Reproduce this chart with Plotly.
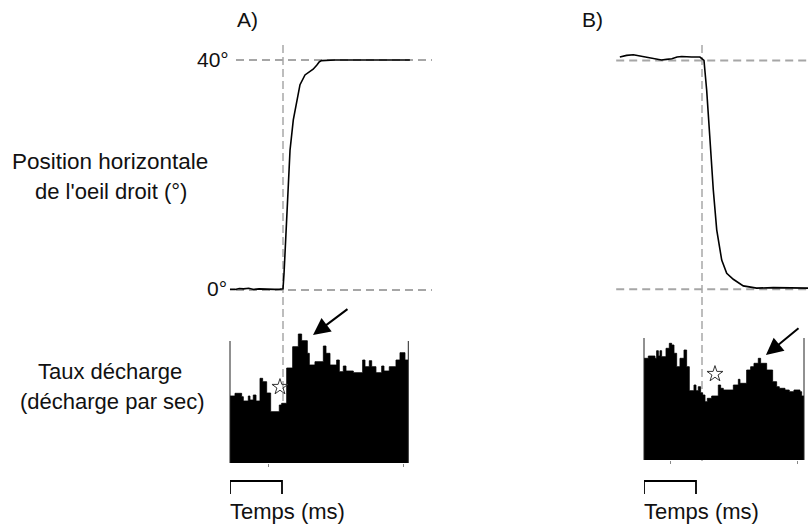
import plotly.graph_objects as go

# ---------------- data ----------------
# Eye position traces (time in ms relative to saccade onset, position in degrees)
eyeA_t = [-102, -92, -84, -76, -66, -56, -46, -36, -26, -16, -6, 0, 2, 3.8, 7.1, 10.2, 13.5,
          19.8, 26.3, 32.7, 42.3, 51.9, 58, 64.8, 70, 74.4, 100, 150, 200, 244]
eyeA_pos = [0.1, 0.1, 0.25, 0.2, 0.3, 0.1, 0.2, 0.15, 0.15, 0.1, 0.15, 0.2, 2.9, 6.4, 13.4, 20.3, 24.3,
            29.6, 33.0, 35.7, 37.4, 38.1, 38.4, 39.1, 39.7, 39.9, 40.0, 40.0, 40.0, 40.0]

eyeB_t = [-158, -145, -132, -118, -106, -92, -78, -68, -58, -48, -39, -20, -4, 3.8, 9.0, 15.4,
          21.7, 28.3, 37.9, 47.5, 60.2, 79.4, 105, 137, 176, 204]
eyeB_pos = [40.6, 40.9, 41.0, 40.8, 40.6, 40.3, 40.1, 40.2, 40.3, 40.6, 40.7, 40.6, 40.6, 40.0,
            34.8, 26.1, 17.4, 10.4, 5.1, 2.8, 1.75, 0.6, 0.2, 0.3, 0.25, 0.2]

# Peri-saccadic firing-rate histograms (bin edges in ms, rate in spikes/s)
histA_edges = [-101.9, -92.3, -79.5, -76.3, -66.7, -63.5, -57.1, -51.9, -44.2, -39.1, -31.4,
               -23.7, -7.1, -2.6, 7.1, 18.6, 29.5, 35.9, 46.8, 50.6, 61.5, 77.6, 82.7, 90.4,
               103.2, 108.3, 116.0, 121.2, 135.3, 153.2, 157.7, 166.0, 170.6, 178.8, 189.8,
               194.2, 204.4, 217.3, 225.0, 234.6, 241.0]
histA_rate = [67, 69.7, 66.3, 62, 67, 63, 68, 62, 84.7, 81.3, 70, 51.3, 58, 59.7, 95, 116.3,
              129, 122.3, 109.7, 98, 101.3, 117, 109.7, 98, 103, 91.3, 97, 92, 90.3, 103,
              96.3, 102.3, 96.3, 90.3, 97, 92, 96.3, 103, 110.3, 103]

histB_edges = [-111.5, -103.2, -90.4, -87.2, -83.9, -80.8, -77.6, -69.2, -62.8, -58.3, -53.8,
               -48.7, -42.3, -34.6, -29.5, -24.4, -15.4, -11.5, -7.1, -2.6, 1.3, 5.8, 10.3,
               18.6, 31.4, 35.9, 41.0, 60.3, 69.9, 73.1, 85.9, 93.6, 100.0, 108.3, 112.8,
               124.4, 135.9, 143.6, 148.7, 159.6, 167.9, 176.9, 188.5, 191.7, 196.2]
histB_rate = [101.7, 104, 101.7, 109.3, 104, 109.3, 103.3, 111.7, 116.7, 115, 106.7, 93.3,
              101.7, 110, 93.3, 69.3, 75, 69.3, 73.3, 67.3, 65, 58.3, 61.7, 64, 75, 71.7, 70,
              75, 80.7, 76.7, 90, 93.3, 96.7, 101.7, 96.7, 90, 78.3, 73.3, 71.7, 70, 68.3,
              70, 68.3, 64]

# markers (star = saccade-related event, arrow = peak response)
starA = (-5.8, 76)
starB = (25, 86)
arrowA_head, arrowA_tail = (57.7, 128), (126.9, 155)
arrowB_head, arrowB_tail = (123, 105), (188.5, 133)

eye_levels = [0, 40]           # reference levels (deg)
eye_level_labels = ["0°", "40°"]
refA_span = (-90.4, 286.5)     # extent of horizontal dashed references (ms)
refB_span = (-165, 204)
scale_bar_ms = 100
histA_ticks = [-28.8, 230.8]
histB_ticks = [-59.6, 184.6]
histA_outline_rate = 122
histB_outline_rate = 122

# ---------------- layout helpers ----------------
W, H = 808, 529
K = 100 / 52.0   # ms per pixel


def fx(px):
    return px / W


def fy(py):
    return 1 - py / H


FONT = "Liberation Sans, Arial, sans-serif"
BLACK = "#000000"
GREY_H = "#a6a6a6"
GREY_V = "#bdbdbd"

fig = go.Figure()

# eye traces
fig.add_trace(go.Scatter(x=eyeA_t, y=eyeA_pos, mode="lines", line=dict(color=BLACK, width=1.6),
                         xaxis="x", yaxis="y", showlegend=False, hoverinfo="skip"))
fig.add_trace(go.Scatter(x=eyeB_t, y=eyeB_pos, mode="lines", line=dict(color=BLACK, width=1.6),
                         xaxis="x3", yaxis="y3", showlegend=False, hoverinfo="skip"))


def step(edges, rates):
    xs, ys = [], []
    for i, r in enumerate(rates):
        xs += [edges[i], edges[i + 1]]
        ys += [r, r]
    return xs, ys


xa, ya = step(histA_edges, histA_rate)
fig.add_trace(go.Scatter(x=xa, y=ya, mode="lines", fill="tozeroy", fillcolor=BLACK,
                         line=dict(color=BLACK, width=0.8), xaxis="x2", yaxis="y2",
                         showlegend=False, hoverinfo="skip"))
xb, yb = step(histB_edges, histB_rate)
fig.add_trace(go.Scatter(x=xb, y=yb, mode="lines", fill="tozeroy", fillcolor=BLACK,
                         line=dict(color=BLACK, width=0.8), xaxis="x4", yaxis="y4",
                         showlegend=False, hoverinfo="skip"))

# stars
for (sx, sy), xa_, ya_ in [(starA, "x2", "y2"), (starB, "x4", "y4")]:
    fig.add_trace(go.Scatter(x=[sx], y=[sy], mode="markers", xaxis=xa_, yaxis=ya_,
                             marker=dict(symbol="star-open", size=12, color="#333333",
                                         line=dict(width=1)),
                             showlegend=False, hoverinfo="skip", cliponaxis=False))

shapes = []
# horizontal dashed references
for lvl in eye_levels:
    shapes.append(dict(type="line", xref="x", yref="y", x0=refA_span[0], x1=refA_span[1],
                       y0=lvl, y1=lvl, line=dict(color=GREY_H, width=2, dash="8px,5px"),
                       layer="below"))
    shapes.append(dict(type="line", xref="x3", yref="y3", x0=refB_span[0], x1=refB_span[1],
                       y0=lvl, y1=lvl, line=dict(color=GREY_H, width=2, dash="8px,5px"),
                       layer="below"))
# vertical dashed saccade onset lines
for xr in ["x", "x3"]:
    shapes.append(dict(type="line", xref=xr, yref="paper", x0=0, x1=0, y0=fy(45), y1=fy(462),
                       line=dict(color=GREY_V, width=2, dash="8px,4px"), layer="below"))
# histogram frame lines (left & right)
for xr, yr, top in [("x2", "y2", histA_outline_rate), ("x4", "y4", histB_outline_rate)]:
    for xd in [0, 1]:
        shapes.append(dict(type="line", xref=xr + " domain", yref=yr, x0=xd, x1=xd, y0=0,
                           y1=top, line=dict(color="#222222", width=1)))
# time scale bars
for xr, edges in [("x2", histA_edges), ("x4", histB_edges)]:
    x0 = edges[0]
    x1 = x0 + scale_bar_ms
    shapes.append(dict(type="path", xref=xr, yref="paper",
                       path=f"M {x0},{fy(494)} L {x0},{fy(481)} L {x1},{fy(481)} L {x1},{fy(494)}",
                       line=dict(color=BLACK, width=1.8)))

annotations = []


def txt(text, px, py, size=22, xanchor="center"):
    annotations.append(dict(text=text, x=fx(px), y=fy(py), xref="paper", yref="paper",
                            showarrow=False, xanchor=xanchor, yanchor="middle",
                            font=dict(family=FONT, size=size, color="#111111")))


txt("A)", 247, 19, 21)
txt("B)", 592, 19, 21)
txt(eye_level_labels[1], 231, 60, 21, "right")
txt(eye_level_labels[0], 229, 288, 21, "right")
txt("Position horizontale", 110, 161, 22.5)
txt("de l'oeil droit (°)", 111, 191)
txt("Taux décharge", 110, 371)
txt("(décharge par sec)", 112, 401)
txt("Temps (ms)", 228, 511, 22, "left")
txt("Temps (ms)", 642, 511, 22, "left")

for (hx, hy), (tx, ty), xr, yr in [(arrowA_head, arrowA_tail, "x2", "y2"),
                                   (arrowB_head, arrowB_tail, "x4", "y4")]:
    annotations.append(dict(x=hx, y=hy, ax=tx, ay=ty, xref=xr, yref=yr, axref=xr, ayref=yr,
                            showarrow=True, arrowhead=2, arrowsize=1.7, arrowwidth=2,
                            arrowcolor=BLACK, text=""))

hidden = dict(visible=True, showgrid=False, zeroline=False, showline=False, showticklabels=False,
              ticks="", fixedrange=True)

fig.update_layout(
    width=W, height=H, margin=dict(l=0, r=0, t=0, b=0),
    paper_bgcolor="white", plot_bgcolor="rgba(0,0,0,0)", template="none",
    showlegend=False,
    xaxis=dict(hidden, domain=[fx(225), fx(435)], range=[(225 - 283) * K, (435 - 283) * K],
               anchor="y"),
    yaxis=dict(hidden, domain=[fy(300), fy(40)], range=[-10 / 5.75, 250 / 5.75], anchor="x"),
    xaxis2=dict(hidden, domain=[fx(230), fx(408.3)], range=[histA_edges[0], histA_edges[-1]],
                anchor="y2", tickvals=histA_ticks, ticks="outside", ticklen=3, tickcolor="#888888",
                tickwidth=1),
    yaxis2=dict(hidden, domain=[fy(463), fy(318)], range=[0, 145], anchor="x2"),
    xaxis3=dict(hidden, domain=[fx(612), fx(808)], range=[(612 - 702) * K, (808 - 702) * K],
                anchor="y3"),
    yaxis3=dict(hidden, domain=[fy(300), fy(40)], range=[-10.7 / 5.72, 249.3 / 5.72], anchor="x3"),
    xaxis4=dict(hidden, domain=[fx(644), fx(804)], range=[histB_edges[0], histB_edges[-1]],
                anchor="y4", tickvals=histB_ticks, ticks="outside", ticklen=3, tickcolor="#888888",
                tickwidth=1),
    yaxis4=dict(hidden, domain=[fy(460), fy(318)], range=[0, 142], anchor="x4"),
    shapes=shapes, annotations=annotations,
)

fig.write_html("out.html", config={"displayModeBar": False, "staticPlot": True},
               post_script="document.body.style.margin='0px';")
